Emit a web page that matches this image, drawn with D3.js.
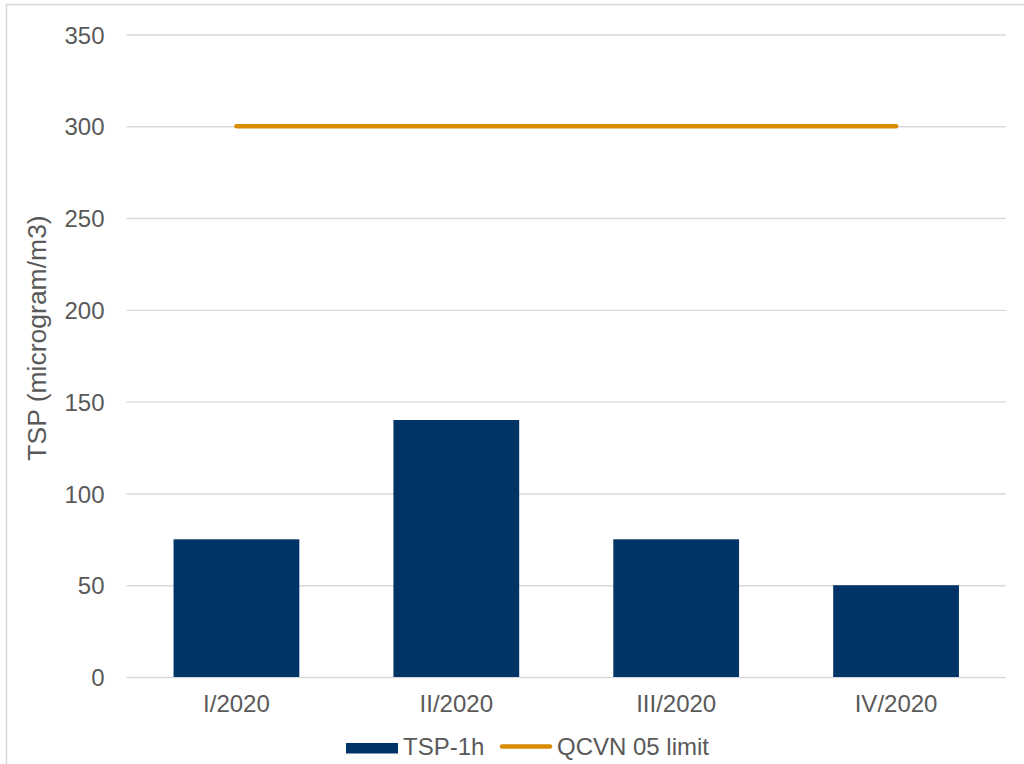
<!DOCTYPE html>
<html>
<head>
<meta charset="utf-8">
<script src="https://cdn.jsdelivr.net/npm/d3@7"></script>
<style>
  html, body { margin: 0; padding: 0; background: #fff; }
  svg { display: block; font-family: "Liberation Sans", Arial, sans-serif; }
</style>
</head>
<body>
<svg id="chart" width="1024" height="764"></svg>
<script>
// Quarterly TSP concentrations (1-hour) against the QCVN 05 limit
const quarters = ["I/2020", "II/2020", "III/2020", "IV/2020"];
const tspValues = [75, 140, 75, 50];
const limitValues = [300, 300, 300, 300];
const yTicks = [0, 50, 100, 150, 200, 250, 300, 350];
const seriesNames = ["TSP-1h", "QCVN 05 limit"];

const barColor = "#003366";
const lineColor = "#D98C00";
const gridColor = "#D9D9D9";
const textColor = "#595959";
const labelSize = 24;

const svg = d3.select("#chart");

// outer chart frame
svg.append("rect")
  .attr("x", 6.5).attr("y", 4.5)
  .attr("width", 1100).attr("height", 900)
  .attr("fill", "none").attr("stroke", "#D9D9D9").attr("stroke-width", 1.5);

const plot = { left: 126.5, right: 1006, top: 34.5, bottom: 677 };

const x = d3.scaleBand()
  .domain(quarters)
  .range([plot.left, plot.right])
  .paddingInner(0.428)
  .paddingOuter(0.214);

const y = d3.scaleLinear()
  .domain([0, 350])
  .range([plot.bottom, plot.top]);

// horizontal gridlines with tick labels
const yAxis = d3.axisLeft(y)
  .tickValues(yTicks)
  .tickSize(-(plot.right - plot.left))
  .tickPadding(22);

const gy = svg.append("g")
  .attr("transform", `translate(${plot.left},0)`)
  .call(yAxis);
gy.select(".domain").remove();
gy.selectAll(".tick line").attr("stroke", gridColor).attr("stroke-width", 1.4);
gy.selectAll(".tick text")
  .attr("fill", textColor)
  .attr("font-size", labelSize)
  .attr("font-family", "Liberation Sans, Arial, sans-serif")
  .attr("dy", "0.36em");

// bars
svg.append("g").selectAll("rect")
  .data(quarters.map((q, i) => ({ q, v: tspValues[i] })))
  .join("rect")
  .attr("x", d => x(d.q))
  .attr("y", d => y(d.v))
  .attr("width", x.bandwidth())
  .attr("height", d => y(0) - y(d.v))
  .attr("fill", barColor);

// limit line
const line = d3.line()
  .x((d, i) => x(quarters[i]) + x.bandwidth() / 2)
  .y(d => y(d));
svg.append("path")
  .datum(limitValues)
  .attr("d", line)
  .attr("fill", "none")
  .attr("stroke", lineColor)
  .attr("stroke-width", 4.5)
  .attr("stroke-linecap", "round");

// category axis labels
const xAxis = d3.axisBottom(x).tickSize(0).tickPadding(18);
const gx = svg.append("g")
  .attr("transform", `translate(0,${plot.bottom})`)
  .call(xAxis);
gx.select(".domain").remove();
gx.selectAll(".tick text")
  .attr("fill", textColor)
  .attr("font-size", labelSize)
  .attr("font-family", "Liberation Sans, Arial, sans-serif");

// y axis title
svg.append("text")
  .attr("transform", "translate(46,338) rotate(-90)")
  .attr("text-anchor", "middle")
  .attr("fill", textColor)
  .attr("font-size", 26.5)
  .text("TSP (microgram/m3)");

// legend
const legend = svg.append("g");
legend.append("rect")
  .attr("x", 346).attr("y", 743)
  .attr("width", 52).attr("height", 10.5)
  .attr("fill", barColor);
legend.append("text")
  .attr("x", 403).attr("y", 755)
  .attr("fill", textColor).attr("font-size", labelSize)
  .text(seriesNames[0]);
legend.append("line")
  .attr("x1", 502).attr("x2", 550)
  .attr("y1", 746.5).attr("y2", 746.5)
  .attr("stroke", lineColor).attr("stroke-width", 4.5)
  .attr("stroke-linecap", "round");
legend.append("text")
  .attr("x", 557).attr("y", 755)
  .attr("fill", textColor).attr("font-size", labelSize)
  .text(seriesNames[1]);
</script>
</body>
</html>
